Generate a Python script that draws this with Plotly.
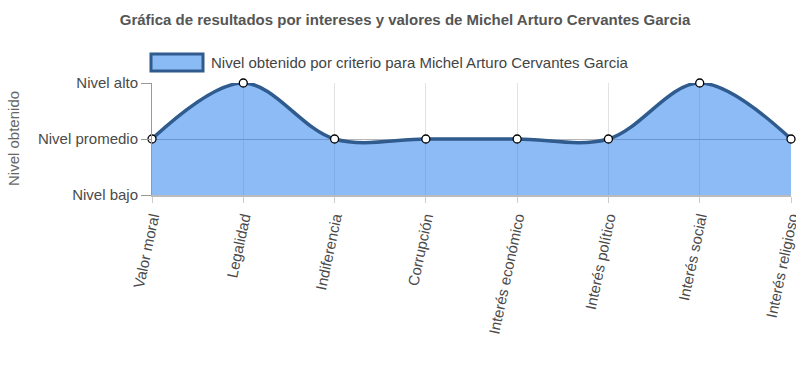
import plotly.graph_objects as go

categories = ["Valor moral", "Legalidad", "Indiferencia", "Corrupción",
              "Interés económico", "Interés político", "Interés social", "Interés religioso"]
values = [1, 2, 1, 1, 1, 1, 2, 1]
level_vals = [0, 1, 2]
level_text = ["Nivel bajo", "Nivel promedio", "Nivel alto"]
series_name = "Nivel obtenido por criterio para Michel Arturo Cervantes Garcia"
title_text = "Gráfica de resultados por intereses y valores de Michel Arturo Cervantes Garcia"

FONT = "Liberation Sans, Arial, sans-serif"
LINE = "#2f5b8e"
FILL = "rgba(25,120,235,0.5)"

W, H = 796, 383
L, T, R, B = 152, 83, 791, 195  # plot area in px

fig = go.Figure()
fig.add_trace(go.Scatter(
    x=categories, y=values, mode="lines+markers",
    line=dict(color=LINE, width=3.5, shape="spline", smoothing=1),
    fill="tozeroy", fillcolor=FILL,
    marker=dict(size=8, color="white", line=dict(color="black", width=1.3)),
    cliponaxis=False, showlegend=False, name=series_name,
))

fig.update_layout(
    width=W, height=H,
    margin=dict(l=L, r=W - R, t=T, b=H - B, autoexpand=False),
    paper_bgcolor="white", plot_bgcolor="white",
    font=dict(family=FONT, size=15, color="#444"),
    title=dict(text="<b>" + title_text + "</b>", x=405 / W, xanchor="center",
               xref="container", y=1 - 20 / H, yanchor="middle",
               font=dict(size=15, color="#555", family=FONT)),
    showlegend=False,
)
fig.update_xaxes(
    type="category", range=[0, len(categories) - 1], automargin=False,
    showgrid=True, gridcolor="#e2e2e2", gridwidth=1,
    tickangle=-78, ticks="outside", ticklen=6, tickcolor="#ccc",
    tickfont=dict(size=15, color="#4a4a4a"),
    showline=True, linecolor="#bbb", linewidth=2, zeroline=False,
)
fig.update_yaxes(
    range=[0, 2], tickvals=level_vals, ticktext=level_text, automargin=False,
    showgrid=True, gridcolor="#b5b5b5", gridwidth=1,
    ticks="outside", ticklen=10, tickcolor="#999",
    tickfont=dict(size=15, color="#4a4a4a"),
    showline=True, linecolor="#999", linewidth=1, zeroline=False,
)
fig.add_annotation(xref="paper", yref="paper", x=(13 - L) / (R - L), y=0.5,
                   text="Nivel obtenido", textangle=-90, showarrow=False,
                   xanchor="center", yanchor="middle",
                   font=dict(size=15, color="#666", family=FONT))

# legend drawn as decoration
fig.add_shape(type="rect", xref="paper", yref="paper",
              x0=(151 - L) / (R - L), x1=(203 - L) / (R - L),
              y0=(B - 71) / (B - T), y1=(B - 54) / (B - T),
              fillcolor="#8abbf5", line=dict(color="#2f5b8e", width=3))
fig.add_annotation(xref="paper", yref="paper", x=(209 - L) / (R - L), y=(B - 62) / (B - T),
                   text=series_name, showarrow=False, xanchor="left", yanchor="middle",
                   font=dict(size=15, color="#444", family=FONT))

fig.write_html("out.html", config={"displayModeBar": False},
               post_script="document.body.style.margin='0px';document.body.style.overflow='hidden';")
